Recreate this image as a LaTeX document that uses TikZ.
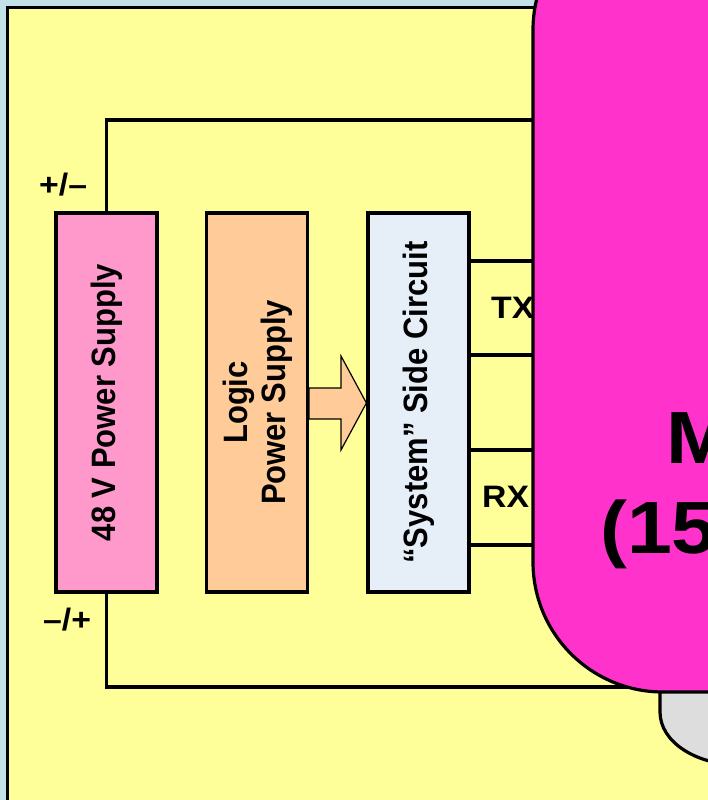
\documentclass[tikz,border=0pt]{standalone}
\usepackage{fontspec}
\setmainfont{Liberation Sans}

\definecolor{bgblue}{HTML}{C0E2E8}
\definecolor{panel}{HTML}{FFFF99}
\definecolor{psupink}{HTML}{FF99CC}
\definecolor{logicpeach}{HTML}{FFCC99}
\definecolor{sysblue}{HTML}{E6EEF8}
\definecolor{mcumagenta}{HTML}{FF33CC}
\definecolor{basegray}{HTML}{DDDDDD}

% text is set slightly wider than tall
\newcommand{\wide}[1]{\scalebox{1.09}[1]{#1}}
\newcommand{\lblfont}{\fontsize{31}{35}\selectfont\bfseries}

\begin{document}
\begin{tikzpicture}[x=1pt, y=-1pt,
  wire/.style={line width=3.2pt},
  block/.style={draw, line width=3.2pt, inner sep=0pt,
                minimum width=101pt, minimum height=379pt},
  lbl/.style={font=\lblfont, inner sep=0pt},
  biglbl/.style={font=\fontsize{74}{88}\selectfont\bfseries, inner sep=0pt},
  fatarrow/.style={draw, line width=1.2pt, fill=logicpeach, line join=miter}]

\useasboundingbox (0,0) rectangle (708,800);
\clip (0,0) rectangle (708,800);

% background and panel
\fill[bgblue] (0,0) rectangle (708,800);
\draw[line width=3.2pt, fill=panel] (7.5,7.5) rectangle (800,850);

% blocks
\node[block, fill=psupink] (psu) at (106.5,402.5)
  {\wide{\rotatebox{90}{\lblfont 48 V Power Supply}}};
\node[block, fill=logicpeach] (logic) at (257,402.5)
  {\hspace*{4pt}\wide{\rotatebox{90}{\lblfont\begin{tabular}{@{}c@{}}Logic\\[0pt]Power Supply\end{tabular}}}};
\node[block, fill=sysblue] (sys) at (418.5,402.5)
  {\wide{\rotatebox{90}{\lblfont ``System'' Side Circuit}}};

% supply polarity labels
\node[lbl, anchor=base west] (plus) at (39,195) {\wide{+/–}};
\node[lbl, anchor=base west] (minus) at (43,630) {\wide{–/+}};

% supply wires into the controller
\coordinate (supTop) at (600,120);
\coordinate (supBot) at (720,687);
\draw[wire] (psu.north) |- (supTop);
\draw[wire] (psu.south) |- (supBot);

% serial lines
\foreach \yy/\nm in {261/a,355/b,450/c,545/d}{
  \coordinate (ser\nm) at (600,\yy);
  \draw[wire] (sys.east |- ser\nm) -- (ser\nm);
}
\node[lbl, anchor=base west] (tx) at (491,318) {\wide{TX}};
\node[lbl, anchor=base west] (rx) at (482,507) {\wide{RX}};

% power transfer arrow
\draw[fatarrow] (logic.east |- 0,388) -- (341,388) -- (341,356)
  -- (sys.west |- 0,403) -- (341,450) -- (341,419) -- (logic.east |- 0,419) -- cycle;

% base under the controller
\draw[line width=3.2pt, fill=basegray] (660,600) -- (660,712)
  .. controls (660,742) and (696,765) .. (740,765) -- (900,765) -- (900,600) -- cycle;

% controller
\draw[line width=3.2pt, fill=mcumagenta, rounded corners=130pt]
  (533,-100) rectangle (900,692);
\node[biglbl, anchor=base west] (mcuA) at (666,463) {\wide{M}};
\node[biglbl, anchor=base west] (mcuB) at (600,553) {\wide{(15}};

\end{tikzpicture}
\end{document}
